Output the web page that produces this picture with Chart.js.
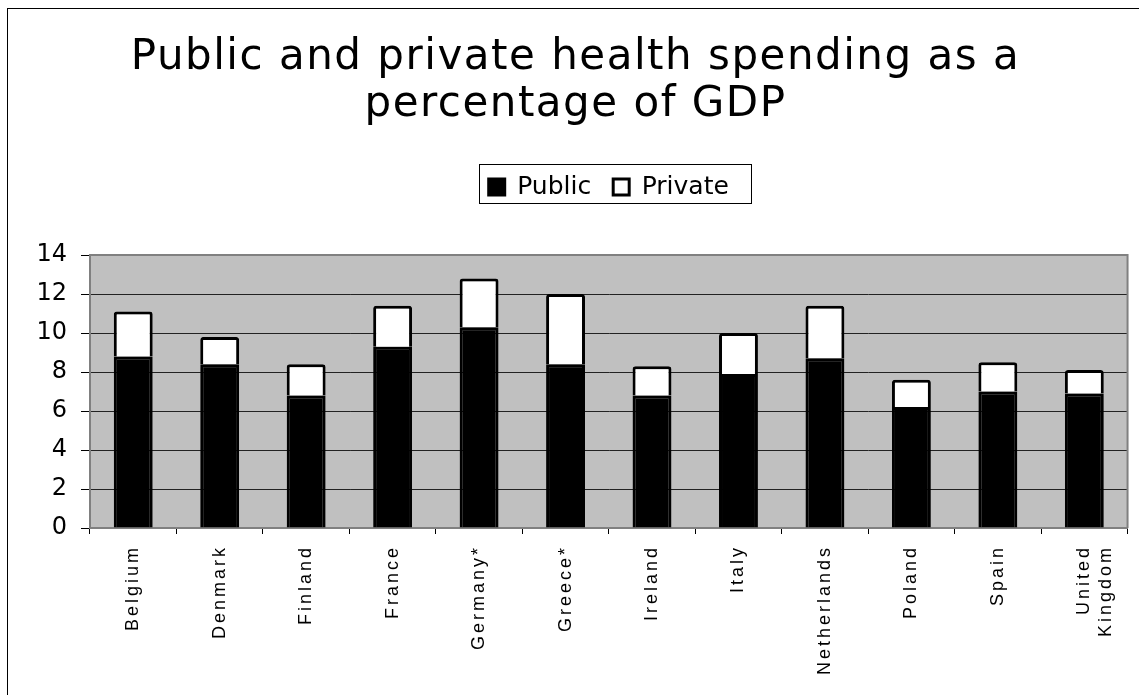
<!DOCTYPE html>
<html>
<head>
<meta charset="utf-8">
<script src="https://cdn.jsdelivr.net/npm/chart.js@4/dist/chart.umd.min.js"></script>
<style>
html,body{margin:0;padding:0;background:#fff;}
#wrap{position:relative;width:1139px;height:695px;}
</style>
</head>
<body>
<div id="wrap"><canvas id="c" width="1139" height="695"></canvas></div>
<script>
// ---- data ----
const categories = ['Belgium','Denmark','Finland','France','Germany*','Greece*','Ireland','Italy','Netherlands','Poland','Spain',['United','Kingdom']];
const publicValues  = [8.8, 8.4, 6.8, 9.3, 10.3, 8.4, 6.8, 7.9, 8.7, 6.2, 7.0, 6.9];
const privateValues = [2.3, 1.4, 1.6, 2.1, 2.5, 3.6, 1.5, 2.1, 2.7, 1.4, 1.5, 1.2];
const seriesNames = ['Public','Private'];
const titleLines = ['Public and private health spending as a','percentage of GDP'];
const yMin = 0, yMax = 14, yStep = 2;

const decor = {
  id: 'decor',
  afterLayout(chart) {
    const tb = chart.titleBlock;
    if (tb && !tb.__ls) {
      const orig = tb.draw;
      tb.draw = function(...args) {
        const c = this.ctx; c.save(); c.letterSpacing = '1.5px'; orig.apply(this, args); c.restore();
      };
      tb.__ls = true;
    }
    const xs = chart.scales.x;
    if (xs && !xs.__ls) {
      const o = xs.drawLabels;
      xs.drawLabels = function(...args) {
        const c = this.ctx; c.save(); c.letterSpacing = '3px'; o.apply(this, args); c.restore();
      };
      xs.__ls = true;
    }
  },
  beforeDraw(chart) {
    const {ctx, chartArea: a} = chart;
    ctx.save();
    ctx.fillStyle = '#fff';
    ctx.fillRect(0, 0, chart.width, chart.height);
    ctx.strokeStyle = '#000';
    ctx.lineWidth = 1;
    ctx.strokeRect(7.5, 8.5, chart.width + 20, chart.height + 20);
    ctx.fillStyle = '#C0C0C0';
    ctx.fillRect(a.left, a.top, a.right - a.left, a.bottom - a.top);
    ctx.restore();
  },
  afterDatasetsDraw(chart) {
    const {ctx, chartArea: a} = chart;
    ctx.save();
    ctx.strokeStyle = '#808080';
    ctx.lineWidth = 2;
    ctx.beginPath();
    ctx.moveTo(a.left, a.top);
    ctx.lineTo(a.right, a.top);
    ctx.lineTo(a.right, a.bottom);
    ctx.stroke();
    ctx.restore();
  },
  afterDraw(chart) {
    const ctx = chart.ctx;
    const hb = chart.legend && chart.legend.legendHitBoxes;
    if (!hb || !hb.length) return;
    const l = hb[0].left - 10;
    const last = hb[hb.length - 1];
    const r = last.left + last.width + 22;
    const yc = hb[0].top + hb[0].height / 2;
    ctx.save();
    ctx.strokeStyle = '#000';
    ctx.lineWidth = 1;
    ctx.strokeRect(Math.round(l) + 0.5, Math.round(yc - 23) + 0.5, Math.round(r - l), 39);
    ctx.restore();
  }
};

new Chart(document.getElementById('c'), {
  type: 'bar',
  data: {
    labels: categories,
    datasets: [
      {
        label: seriesNames[0],
        data: publicValues,
        backgroundColor: '#000',
        borderColor: '#000',
        borderWidth: 3,
        borderRadius: 3,
        barPercentage: 0.45,
        categoryPercentage: 1,
        stack: 's'
      },
      {
        label: seriesNames[1],
        data: privateValues,
        backgroundColor: '#fff',
        borderColor: '#000',
        borderWidth: 3,
        borderRadius: 3,
        barPercentage: 0.45,
        categoryPercentage: 1,
        stack: 's'
      }
    ]
  },
  options: {
    responsive: false,
    animation: false,
    devicePixelRatio: 1,
    layout: { padding: { left: 22, right: 10, top: 0, bottom: 0 } },
    plugins: {
      tooltip: { enabled: false },
      title: {
        display: true,
        text: titleLines,
        color: '#000',
        font: { family: 'DejaVu Sans', size: 42, weight: 'normal', lineHeight: '47px' },
        padding: { top: 35, bottom: 23.5 }
      },
      subtitle: {
        display: true,
        text: '',
        weight: 500,
        font: { size: 10, lineHeight: '12px' },
        padding: { top: 0, bottom: 33.5 }
      },
      legend: {
        position: 'top',
        fullSize: false,
        labels: {
          font: { family: 'DejaVu Sans', size: 25 },
          color: '#000',
          boxWidth: 16,
          boxHeight: 16,
          padding: 22
        }
      }
    },
    scales: {
      x: {
        stacked: true,
        grid: { offset: true, drawOnChartArea: false, drawTicks: true, tickLength: 6, tickColor: '#000' },
        border: { color: '#808080', width: 2 },
        ticks: {
          autoSkip: false,
          minRotation: 90,
          maxRotation: 90,
          padding: 11,
          color: '#000',
          font: { family: 'Liberation Sans', size: 18 }
        },
        afterFit(scale) { scale.height = 167; }
      },
      y: {
        stacked: true,
        min: yMin,
        max: yMax,
        grid: { color: '#222', tickColor: '#000', tickLength: 9, lineWidth: 1 },
        border: { color: '#808080', width: 2 },
        ticks: {
          stepSize: yStep,
          padding: 14,
          color: '#000',
          font: { family: 'DejaVu Sans', size: 24 }
        },
        afterFit(scale) { scale.width = 68; }
      }
    }
  },
  plugins: [decor]
});
</script>
</body>
</html>
